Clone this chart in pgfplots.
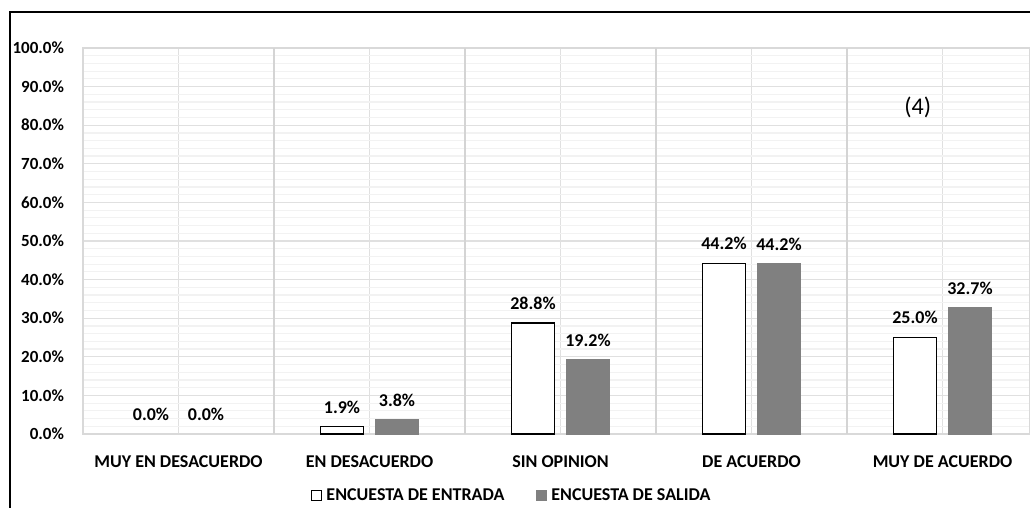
\documentclass[border=0pt]{standalone}
\usepackage{pgfplots}
\pgfplotsset{compat=1.18}
\usepackage{fontspec}
\setmainfont{Carlito}
\definecolor{salida}{RGB}{128,128,128}
\begin{document}
\begin{tikzpicture}
\path[use as bounding box] (0,0) rectangle (515pt,254pt);
\draw[line width=1.2pt] (5pt,0) -- (5pt,248pt) -- (515pt,248pt);
\begin{axis}[
  at={(41.5pt,37pt)}, anchor=south west, scale only axis,
  width=473.5pt, height=193pt,
  ymin=0, ymax=100, xmin=-0.5, xmax=4.458,
  ybar, bar width=21.5pt,
  ytick={0,10,...,100},
  minor y tick num=4,
  ymajorgrids, yminorgrids, xmajorgrids,
  major grid style={draw=black!12, line width=0.6pt},
  minor grid style={draw=black!5, line width=0.6pt},
  xtick={0,...,4},
  xticklabels={MUY EN DESACUERDO, EN DESACUERDO, SIN OPINION, DE ACUERDO, MUY DE ACUERDO},
  extra x ticks={0.5,1.5,2.5,3.5},
  extra x tick labels={},
  extra x tick style={major grid style={draw=black!17, line width=0.6pt}},
  major tick length=0pt, minor tick length=0pt,
  axis line style={draw=black!15, line width=0.6pt},
  /pgf/number format/assume math mode=true,
  yticklabel={\pgfmathprintnumber[fixed,fixed zerofill,precision=1]{\tick}\%},
  yticklabel style={font=\bfseries\fontsize{8.5}{10}\selectfont, anchor=east, xshift=-6pt},
  xticklabel style={font=\bfseries\fontsize{9}{11}\selectfont, yshift=-7.3pt},
  nodes near coords={\pgfmathprintnumber[fixed,fixed zerofill,precision=1]{\pgfplotspointmeta}\%},
  every node near coord/.append style={font=\bfseries\fontsize{9}{11}\selectfont, yshift=3pt, text=black},
  legend style={at={(0.454,-0.16)}, anchor=center, draw=none, fill=none,
    font=\bfseries\fontsize{9}{11}\selectfont, legend columns=2,
    /tikz/every even column/.append style={column sep=14pt}},
  legend image code/.code={\draw[#1, line width=0.5pt] (0pt,-2.5pt) rectangle (5pt,2.5pt);},
  clip=false,
]
\addplot[bar shift=-13.75pt, draw=black, fill=white, line width=0.8pt] coordinates {(1,1.9) (2,28.8) (3,44.2) (4,25.0)};
\addplot[bar shift=13.75pt, draw=salida, fill=salida] coordinates {(1,3.8) (2,19.2) (3,44.2) (4,32.7)};
\addplot[bar shift=-13.75pt, draw=none, fill=none, forget plot] coordinates {(0,0)};
\addplot[bar shift=13.75pt, draw=none, fill=none, forget plot] coordinates {(0,0)};
\legend{ENCUESTA DE ENTRADA, ENCUESTA DE SALIDA}
\node at (axis cs:3.87,84.5) {\fontsize{12}{14}\selectfont (4)};
\end{axis}
\end{tikzpicture}
\end{document}
